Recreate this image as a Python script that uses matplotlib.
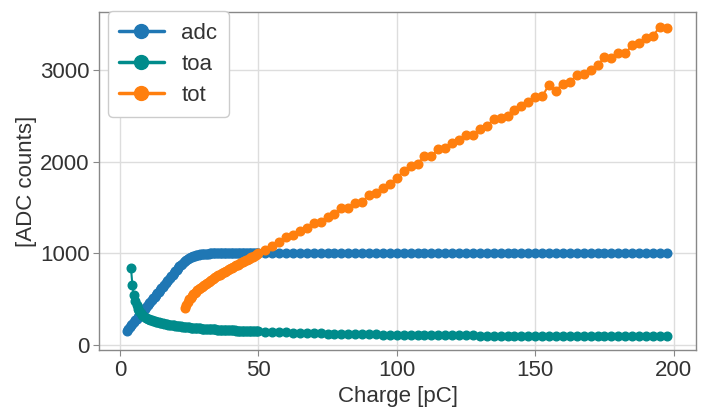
import numpy as np
import matplotlib
matplotlib.use('Agg')
import matplotlib.pyplot as plt

# charge grid: dense scan at low charge, coarser steps afterwards
charge_fine = np.arange(2.5, 50, 0.5)
charge_coarse = np.arange(50, 198, 2.5)

adc_fine = [155, 174, 192, 211, 229, 248, 266, 285, 303, 322, 340, 359, 377, 396, 414, 433,
            451, 470, 488, 507, 525, 544, 562, 581, 599, 618, 636, 655, 673, 692, 710, 729,
            747, 766, 784, 803, 821, 840, 856, 870, 886, 900, 913, 925, 935, 945, 953, 960,
            966, 972, 977, 981, 984, 987, 989, 991, 993, 994, 995, 996, 997, 998, 998, 999,
            999, 1000, 1000, 1001, 1000, 1001, 1001, 1000, 1001, 1001, 1002, 1001, 1001, 1002,
            1002, 1001, 1002, 1002, 1002, 1001, 1002, 1002, 1002, 1002, 1002, 1002, 1002, 1002,
            1002, 1002, 1002]
adc_coarse = [1003] * 60

toa_fine = [840, 655, 545, 480, 430, 395, 368, 347, 330, 316, 305, 295, 287, 280, 273, 267,
            262, 257, 252, 248, 244, 240, 236, 233, 230, 227, 224, 221, 218, 216, 213, 211,
            209, 207, 205, 203, 201, 199, 197, 195, 194, 192, 190, 189, 187, 186, 184, 183,
            182, 180, 179, 178, 177, 176, 175, 174, 173, 172, 171, 170, 169, 168, 167, 166,
            165, 164, 164, 163, 162, 161, 161, 160, 159, 158, 158, 157, 156, 156, 155, 154,
            154, 153, 152, 152, 151, 151, 150, 149, 149, 148, 148, 147]
toa_coarse = [148, 144, 141, 138, 135, 133, 130, 128, 126, 124, 123, 121, 120, 118, 117, 115,
              114, 113, 112, 111, 110, 109, 108, 107, 107, 106, 105, 104, 104, 103, 102, 102,
              101, 101, 100, 100, 99, 99, 98, 98, 97, 97, 97, 96, 96, 95, 95, 95,
              94, 94, 94, 93, 93, 93, 92, 92, 92, 92, 91, 91]

tot_fine = [400, 440, 470, 495, 515, 535, 550, 565, 580, 595, 608, 620, 632, 643, 655, 665,
            676, 686, 696, 706, 716, 730, 740, 748, 757, 766, 775, 783, 792, 800, 809, 818,
            826, 835, 843, 851, 859, 867, 875, 883, 891, 899, 907, 915, 923, 931, 939, 947,
            955, 963, 970, 978, 986]
tot_coarse = [1000, 1036, 1080, 1127, 1174, 1200, 1243, 1279, 1327, 1345, 1392, 1425, 1490, 1490,
              1545, 1563, 1636, 1654, 1709, 1756, 1818, 1900, 1950, 1975, 2060, 2055, 2135, 2150,
              2200, 2235, 2285, 2285, 2355, 2390, 2460, 2480, 2500, 2560, 2610, 2645, 2705, 2710,
              2840, 2775, 2850, 2870, 2940, 2960, 2995, 3050, 3140, 3135, 3180, 3180, 3270, 3295,
              3345, 3370, 3470, 3460]

adc_x = charge_fine.tolist() + charge_coarse.tolist()
toa_x = charge_fine[3:].tolist() + charge_coarse.tolist()
tot_x = charge_fine[42:].tolist() + charge_coarse.tolist()

plt.style.use('seaborn-v0_8-whitegrid')
plt.rcParams['font.family'] = ['Liberation Sans', 'DejaVu Sans']
plt.rcParams['font.size'] = 16

fig = plt.figure(figsize=(7.05, 4.19), dpi=100)
ax = fig.add_axes([0.141, 0.165, 0.846, 0.806])

ax.plot(adc_x, adc_fine + adc_coarse, 'o-', color='#1f77b4', ms=6.2, lw=1.5, label='adc')
ax.plot(toa_x, toa_fine + toa_coarse, 'o-', color='#008b8b', ms=6.2, lw=1.5, label='toa')
ax.plot(tot_x, tot_fine + tot_coarse, 'o-', color='#ff7f0e', ms=6.2, lw=1.5, label='tot')

ax.set_xlim(-7.4, 208)
ax.set_ylim(-55, 3630)
ax.set_xticks([0, 50, 100, 150, 200])
ax.set_yticks([0, 1000, 2000, 3000])
ax.set_xlabel('Charge [pC]', color='#333333')
ax.set_ylabel('[ADC counts]', color='#333333', labelpad=2)
ax.tick_params(colors='#333333', labelsize=16, length=4, width=0.8, direction='out',
               left=True, bottom=True, pad=3)
ax.tick_params(axis='both', color='#888888')
for side in ['left', 'bottom', 'right', 'top']:
    ax.spines[side].set_visible(True)
    ax.spines[side].set_color('#888888')
    ax.spines[side].set_linewidth(1.0)
ax.grid(color='#dddddd', linewidth=1.0)

leg = ax.legend(loc='upper left', bbox_to_anchor=(-0.004, 1.035), frameon=True, fancybox=True,
                handlelength=2.0, labelspacing=0.45, borderpad=0.5, fontsize=16,
                framealpha=1.0, edgecolor='#cccccc')
for h in leg.legend_handles:
    h.set_markersize(10)
    h.set_linewidth(2.5)
for t in leg.get_texts():
    t.set_color('#333333')

fig.savefig('out.png', dpi=100)
